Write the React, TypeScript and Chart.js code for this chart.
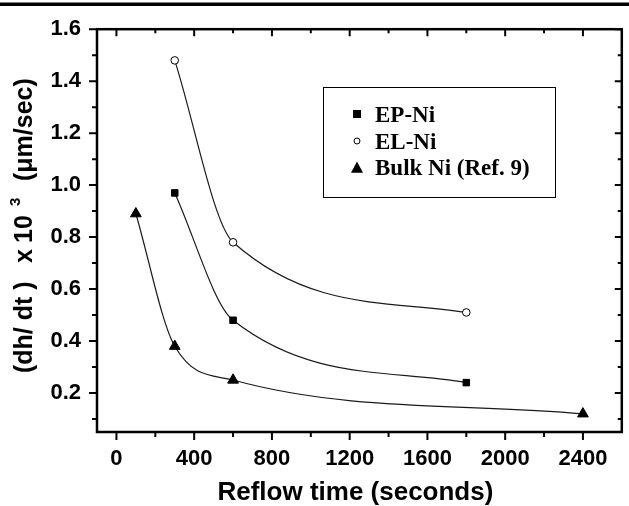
import { useEffect, useRef } from "react";
import { Chart, registerables } from "chart.js";

Chart.register(...registerables);

// ---- data ----
const X_TICKS = [0, 400, 800, 1200, 1600, 2000, 2400];
const X_MINOR = [200, 600, 1000, 1400, 1800, 2200];
const Y_TICKS = [0.2, 0.4, 0.6, 0.8, 1.0, 1.2, 1.4, 1.6];
const Y_MINOR = [0.1, 0.3, 0.5, 0.7, 0.9, 1.1, 1.3, 1.5];

const epTime = [300, 600, 1800];
const epRate = [0.97, 0.48, 0.24];
const elTime = [300, 600, 1800];
const elRate = [1.48, 0.78, 0.51];
const bulkTime = [100, 300, 600, 2400];
const bulkRate = [0.89, 0.38, 0.25, 0.12];

const SERIES_LABELS = ["EP-Ni", "EL-Ni", "Bulk Ni (Ref. 9)"];
const X_TITLE = "Reflow time (seconds)";

const SANS = '"Liberation Sans", Arial, sans-serif';
const SERIF = '"Liberation Serif", "Times New Roman", serif';

function pts(xs: number[], ys: number[]) {
  return xs.map((x, i) => ({ x, y: ys[i] }));
}

function drawMarker(ctx: CanvasRenderingContext2D, style: string, x: number, y: number, s: number) {
  ctx.save();
  ctx.fillStyle = "#000";
  ctx.strokeStyle = "#000";
  ctx.lineWidth = 1;
  if (style === "rect") {
    ctx.fillRect(x - s / 2, y - s / 2, s, s);
  } else if (style === "circle") {
    ctx.beginPath();
    ctx.arc(x, y, s / 2, 0, Math.PI * 2);
    ctx.fillStyle = "#fff";
    ctx.fill();
    ctx.stroke();
  } else {
    ctx.beginPath();
    ctx.moveTo(x, y - s * 0.55);
    ctx.lineTo(x + s / 2, y + s * 0.4);
    ctx.lineTo(x - s / 2, y + s * 0.4);
    ctx.closePath();
    ctx.fill();
  }
  ctx.restore();
}

const framePlugin = {
  id: "frame",
  afterDraw(chart: any) {
    const ctx: CanvasRenderingContext2D = chart.ctx;
    const { left, right, top, bottom } = chart.chartArea;
    const xs = chart.scales.x;
    const ys = chart.scales.y;
    ctx.save();
    // top bar of the page
    ctx.fillStyle = "#000";
    ctx.fillRect(0, 2.5, chart.width, 3.5);

    // frame
    ctx.strokeStyle = "#000";
    ctx.lineWidth = 2.5;
    ctx.strokeRect(left, top, right - left, bottom - top);

    ctx.lineWidth = 2;
    ctx.beginPath();
    const MAJ = 8;
    const MIN = 5;
    const IMAJ = 7;
    const IMIN = 4;
    for (const v of X_TICKS) {
      const p = xs.getPixelForValue(v);
      ctx.moveTo(p, bottom);
      ctx.lineTo(p, bottom + MAJ);
      ctx.moveTo(p, top);
      ctx.lineTo(p, top + IMAJ);
    }
    for (const v of X_MINOR) {
      const p = xs.getPixelForValue(v);
      ctx.moveTo(p, bottom);
      ctx.lineTo(p, bottom + MIN);
      ctx.moveTo(p, top);
      ctx.lineTo(p, top + IMIN);
    }
    for (const v of Y_TICKS) {
      const p = ys.getPixelForValue(v);
      ctx.moveTo(left, p);
      ctx.lineTo(left - MAJ, p);
      ctx.moveTo(right, p);
      ctx.lineTo(right - IMAJ, p);
    }
    for (const v of Y_MINOR) {
      const p = ys.getPixelForValue(v);
      ctx.moveTo(left, p);
      ctx.lineTo(left - MIN, p);
      ctx.moveTo(right, p);
      ctx.lineTo(right - IMIN, p);
    }
    ctx.stroke();

    // x title
    ctx.fillStyle = "#000";
    ctx.font = `bold 26px ${SANS}`;
    ctx.textAlign = "center";
    ctx.textBaseline = "alphabetic";
    ctx.fillText(X_TITLE, (left + right) / 2 - 4, 500);

    // y title (rotated)
    ctx.save();
    ctx.translate(32, 0);
    ctx.rotate(-Math.PI / 2);
    ctx.textAlign = "left";
    ctx.font = `bold 25px ${SANS}`;
    ctx.fillText("(dh/ dt )", -373, 0);
    ctx.fillText("x", -263, 0);
    ctx.fillText("10", -243, 0);
    ctx.font = `bold 15px ${SANS}`;
    ctx.fillText("3", -206, -12);
    ctx.font = `bold 25px ${SANS}`;
    ctx.fillText("(\u03bcm/sec)", -181, 0);
    ctx.restore();

    // legend
    ctx.lineWidth = 1;
    ctx.strokeStyle = "#000";
    ctx.strokeRect(323.5, 87.5, 232, 110);
    ctx.font = `bold 23px ${SERIF}`;
    ctx.textAlign = "left";
    ctx.textBaseline = "alphabetic";
    const rows = [
      { style: "rect", my: 114, ty: 122, s: 8 },
      { style: "circle", my: 141, ty: 149, s: 6 },
      { style: "triangle", my: 168, ty: 175, s: 12 },
    ];
    chart.data.datasets.forEach((ds: any, i: number) => {
      const r = rows[i];
      drawMarker(ctx, r.style, 357, r.my, r.s);
      ctx.fillStyle = "#000";
      ctx.fillText(ds.label, 375, r.ty);
    });
    ctx.restore();
  },
};

export default function App() {
  const ref = useRef<HTMLCanvasElement | null>(null);

  useEffect(() => {
    if (!ref.current) return;
    const lineCommon = {
      showLine: true,
      borderColor: "#1a1a1a",
      borderWidth: 1.2,
      cubicInterpolationMode: "monotone" as const,
      fill: false,
      pointBorderColor: "#000",
      pointBorderWidth: 1,
    };
    const chart = new Chart(ref.current, {
      type: "line",
      data: {
        datasets: [
          {
            ...lineCommon,
            label: SERIES_LABELS[0],
            data: pts(epTime, epRate),
            pointStyle: "rect",
            pointRadius: 4.6,
            pointBackgroundColor: "#000",
          },
          {
            ...lineCommon,
            label: SERIES_LABELS[1],
            data: pts(elTime, elRate),
            pointStyle: "circle",
            pointRadius: 3.8,
            pointBackgroundColor: "#fff",
          },
          {
            ...lineCommon,
            label: SERIES_LABELS[2],
            data: pts(bulkTime, bulkRate),
            pointStyle: "triangle",
            pointRadius: 6.2,
            pointBackgroundColor: "#000",
          },
        ],
      },
      options: {
        responsive: false,
        animation: false,
        devicePixelRatio: 1,
        layout: { padding: { top: 13, right: 2, left: 0, bottom: 0 } },
        plugins: {
          legend: { display: false },
          tooltip: { enabled: false },
        },
        scales: {
          x: {
            type: "linear",
            min: -100,
            max: 2600,
            grid: { display: false, drawTicks: false },
            border: { display: false },
            ticks: {
              color: "#000",
              font: { family: SANS, size: 22, weight: "bold" },
              padding: 14,
              maxRotation: 0,
              autoSkip: false,
              callback: (v: any) => String(v),
            },
            afterBuildTicks: (s: any) => {
              s.ticks = X_TICKS.map((v) => ({ value: v }));
            },
            afterFit: (s: any) => {
              s.height = 74;
            },
          },
          y: {
            type: "linear",
            min: 0.05,
            max: 1.6,
            grid: { display: false, drawTicks: false },
            border: { display: false },
            ticks: {
              color: "#000",
              font: { family: SANS, size: 22, weight: "bold" },
              padding: 16,
              autoSkip: false,
              callback: (v: any) => Number(v).toFixed(1),
            },
            afterBuildTicks: (s: any) => {
              s.ticks = Y_TICKS.map((v) => ({ value: v }));
            },
            afterFit: (s: any) => {
              s.width = 97;
            },
          },
        },
      } as any,
      plugins: [framePlugin],
    });
    return () => chart.destroy();
  }, []);

  return (
    <div style={{ position: "absolute", left: 0, top: 0, width: 629, height: 506, background: "#fff" }}>
      <canvas ref={ref} width={629} height={506} style={{ display: "block" }} />
    </div>
  );
}
